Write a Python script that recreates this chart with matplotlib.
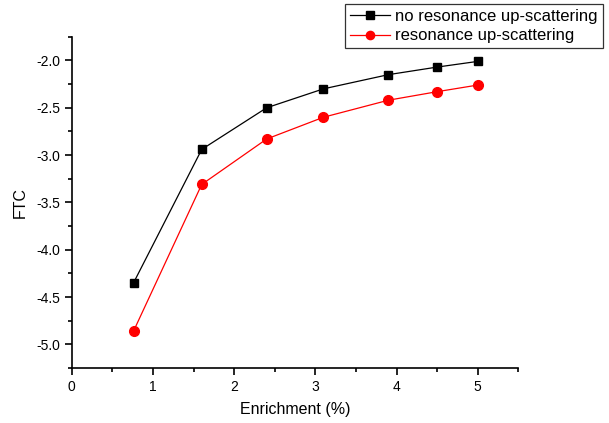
import numpy as np
import matplotlib
matplotlib.use("Agg")
import matplotlib.pyplot as plt
from matplotlib.ticker import MultipleLocator

plt.rcParams['font.family'] = ['Liberation Sans', 'DejaVu Sans']

# data
enrichment = [0.76, 1.6, 2.4, 3.1, 3.9, 4.5, 5.0]
ftc_no_res = [-4.35, -2.94, -2.50, -2.30, -2.15, -2.07, -2.01]
ftc_res = [-4.86, -3.31, -2.83, -2.60, -2.42, -2.33, -2.26]

fig = plt.figure(figsize=(6.09, 4.23), dpi=100)
ax = fig.add_axes([0.118, 0.130, 0.733, 0.783])

ax.plot(enrichment, ftc_no_res, color='black', lw=0.9, marker='s', ms=6,
        label='no resonance up-scattering')
ax.plot(enrichment, ftc_res, color='red', lw=0.9, marker='o', ms=7,
        label='resonance up-scattering')

ax.set_xlim(0, 5.5)
ax.set_ylim(-5.25, -1.75)
ax.xaxis.set_major_locator(MultipleLocator(1))
ax.xaxis.set_minor_locator(MultipleLocator(0.5))
ax.yaxis.set_major_locator(MultipleLocator(0.5))
ax.yaxis.set_minor_locator(MultipleLocator(0.25))
ax.yaxis.set_major_formatter(plt.FormatStrFormatter('%.1f'))

for s in ['top', 'right']:
    ax.spines[s].set_visible(False)
for s in ['left', 'bottom']:
    ax.spines[s].set_linewidth(1.2)
ax.tick_params(which='major', direction='out', length=5, width=1.2, labelsize=10)
ax.tick_params(which='minor', direction='out', length=3, width=1.2)

ax.set_xlabel('Enrichment (%)', fontsize=11.5, labelpad=6)
ax.set_ylabel('FTC', fontsize=11.5, labelpad=6)

leg = fig.legend(loc='upper right', bbox_to_anchor=(0.99, 0.99), fontsize=12,
                 frameon=True, fancybox=False, edgecolor='black',
                 handlelength=2.4, handletextpad=0.3, borderpad=0.3,
                 labelspacing=0.25, borderaxespad=0, markerscale=0.85)
leg.get_frame().set_linewidth(0.9)

fig.savefig('out.png', dpi=100)
